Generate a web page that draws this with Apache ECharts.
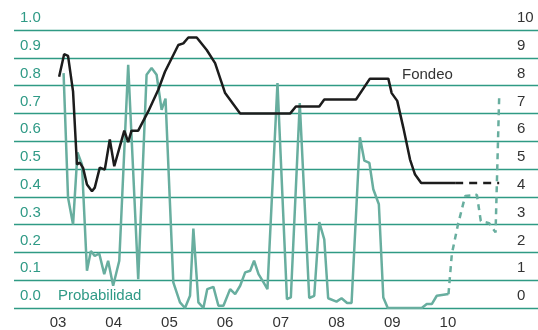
<!DOCTYPE html>
<html>
<head>
<meta charset="utf-8">
<script src="https://cdn.jsdelivr.net/npm/echarts@6/dist/echarts.min.js"></script>
<style>
  html, body { margin: 0; padding: 0; background: #fff; }
  #chart { width: 538px; height: 330px; }
</style>
</head>
<body>
<div id="chart"></div>
<script>
  // años (decimales) y valores
  var yearLabels = [2003, 2004, 2005, 2006, 2007, 2008, 2009, 2010]

  var fondeoDates = [2003.02, 2003.11, 2003.18, 2003.27, 2003.34, 2003.39, 2003.45, 2003.52, 2003.61, 2003.66,
    2003.75, 2003.84, 2003.93, 2004.01, 2004.19, 2004.26, 2004.32, 2004.44, 2004.62, 2004.80,
    2004.92, 2005.01, 2005.16, 2005.25, 2005.34, 2005.49, 2005.67, 2005.82, 2006.00, 2006.27,
    2007.17, 2007.27, 2007.69, 2007.78, 2008.35, 2008.60, 2008.93, 2008.99, 2009.09, 2009.20,
    2009.32, 2009.41, 2009.52, 2010.13]
  var fondeoValues = [8.32, 9.13, 9.07, 7.79, 5.16, 5.23, 5.04, 4.44, 4.2, 4.33,
    5.05, 4.98, 6.06, 5.1, 6.38, 5.97, 6.38, 6.38, 7.07, 7.85,
    8.5, 8.86, 9.46, 9.52, 9.73, 9.73, 9.28, 8.81, 7.73, 7.0,
    7.0, 7.25, 7.25, 7.5, 7.5, 8.25, 8.25, 7.73, 7.45, 6.48,
    5.34, 4.8, 4.5, 4.5]
  var fondeoForecastDates = [2010.13, 2010.92]
  var fondeoForecastValues = [4.5, 4.5]

  var probDates = [2003.10, 2003.18, 2003.27, 2003.35, 2003.43, 2003.52, 2003.59, 2003.66, 2003.74, 2003.83,
    2003.90, 2003.99, 2004.10, 2004.26, 2004.44, 2004.59, 2004.68, 2004.77, 2004.86, 2004.93,
    2005.07, 2005.19, 2005.28, 2005.37, 2005.43, 2005.52, 2005.61, 2005.68, 2005.79, 2005.88,
    2005.97, 2006.09, 2006.18, 2006.27, 2006.36, 2006.45, 2006.52, 2006.60, 2006.69, 2006.76,
    2006.94, 2007.11, 2007.18, 2007.34, 2007.51, 2007.60, 2007.69, 2007.78, 2007.85, 2008.00,
    2008.09, 2008.19, 2008.27, 2008.42, 2008.50, 2008.59, 2008.66, 2008.76, 2008.84, 2008.92,
    2009.53, 2009.62, 2009.71, 2009.80, 2010.01]
  var probValues = [0.845, 0.397, 0.30, 0.56, 0.516, 0.134, 0.205, 0.187, 0.196, 0.122,
    0.17, 0.08, 0.17, 0.875, 0.104, 0.839, 0.863, 0.839, 0.713, 0.753,
    0.092, 0.02, 0.0, 0.044, 0.286, 0.02, 0.0, 0.068, 0.076, 0.008,
    0.008, 0.068, 0.05, 0.08, 0.128, 0.134, 0.17, 0.122, 0.092, 0.068,
    0.809, 0.032, 0.038, 0.737, 0.036, 0.044, 0.309, 0.247, 0.035, 0.023,
    0.035, 0.018, 0.018, 0.614, 0.53, 0.522, 0.427, 0.373, 0.038, 0.0,
    0.0, 0.014, 0.014, 0.044, 0.05]
  var probForecastDates = [2010.01, 2010.07, 2010.18, 2010.31, 2010.52, 2010.59, 2010.74, 2010.855, 2010.92]
  var probForecastValues = [0.05, 0.194, 0.30, 0.403, 0.407, 0.313, 0.305, 0.272, 0.758]

  function pairs(xs, ys) {
    return xs.map(function (x, i) { return [x, ys[i]] })
  }

  var teal = '#68ae9f'
  var gridColor = '#2f9a84'
  var font = 'Liberation Sans, Arial, sans-serif'

  var myChart = echarts.init(document.getElementById('chart'))
  var option = {
    animation: false,
    grid: { left: 14, right: 0, top: 30, bottom: 21 },
    xAxis: {
      type: 'value',
      min: 2002.21,
      max: 2011.617,
      axisLine: { show: false },
      axisTick: { show: false },
      splitLine: { show: false },
      axisLabel: {
        customValues: yearLabels,
        formatter: function (v) { return String(Math.round(v) % 100).padStart(2, '0') },
        color: '#333',
        fontSize: 15,
        fontFamily: font,
        margin: 7
      }
    },
    yAxis: [{
      type: 'value',
      min: 0,
      max: 1,
      interval: 0.1,
      axisLine: { show: false },
      axisTick: { show: false },
      splitLine: { show: true, lineStyle: { color: gridColor, width: 1.3 } },
      axisLabel: {
        inside: true,
        margin: 6,
        verticalAlign: 'bottom',
        lineHeight: 24,
        color: '#2f9a86',
        fontSize: 15,
        fontFamily: font,
        formatter: function (v) { return v.toFixed(1) }
      }
    }, {
      type: 'value',
      position: 'right',
      min: 0,
      max: 10,
      interval: 1,
      axisLine: { show: false },
      axisTick: { show: false },
      splitLine: { show: false },
      axisLabel: {
        inside: true,
        margin: 21,
        align: 'left',
        verticalAlign: 'bottom',
        lineHeight: 24,
        color: '#333',
        fontSize: 15,
        fontFamily: font
      }
    }],
    series: [{
      name: 'Probabilidad',
      type: 'line',
      data: pairs(probDates, probValues),
      showSymbol: false,
      lineStyle: { color: teal, width: 2.5 }
    }, {
      name: 'Probabilidad pronóstico',
      type: 'line',
      data: pairs(probForecastDates, probForecastValues),
      showSymbol: false,
      lineStyle: { color: teal, width: 2.5, type: [6, 5] }
    }, {
      name: 'Fondeo',
      type: 'line',
      yAxisIndex: 1,
      data: pairs(fondeoDates, fondeoValues),
      showSymbol: false,
      lineStyle: { color: '#1c1c1c', width: 2.5 }
    }, {
      name: 'Fondeo pronóstico',
      type: 'line',
      yAxisIndex: 1,
      data: pairs(fondeoForecastDates, fondeoForecastValues),
      showSymbol: false,
      lineStyle: { color: '#1c1c1c', width: 2.5, type: [8, 6] }
    }],
    graphic: [{
      type: 'text',
      left: 402,
      top: 67,
      style: { text: 'Fondeo', fill: '#333', fontSize: 15, fontFamily: font }
    }, {
      type: 'text',
      left: 58,
      top: 288,
      style: { text: 'Probabilidad', fill: '#2f9a86', fontSize: 15, fontFamily: font }
    }]
  }
  myChart.setOption(option)
</script>
</body>
</html>
